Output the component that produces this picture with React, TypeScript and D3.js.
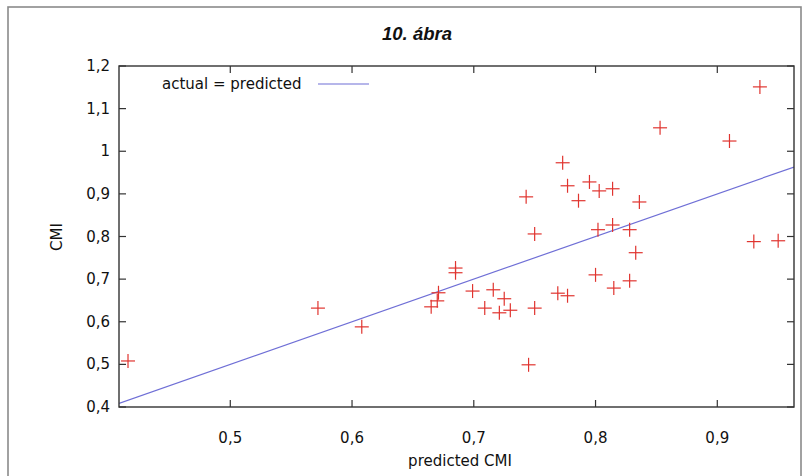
import React from 'react';
import * as d3 from 'd3';

// predicted CMI (x) and actual CMI (y)
const predicted = [
  0.416, 0.572, 0.608, 0.665, 0.670, 0.671, 0.685, 0.685, 0.699, 0.716,
  0.725, 0.709, 0.721, 0.730, 0.750, 0.745, 0.750, 0.769, 0.777, 0.800,
  0.802, 0.814, 0.815, 0.828, 0.828, 0.833, 0.930, 0.950, 0.935, 0.853,
  0.910, 0.773, 0.777, 0.743, 0.786, 0.795, 0.803, 0.814, 0.836,
];
const actual = [
  0.508, 0.632, 0.588, 0.635, 0.649, 0.668, 0.726, 0.715, 0.672, 0.675,
  0.654, 0.632, 0.621, 0.627, 0.632, 0.499, 0.806, 0.667, 0.661, 0.710,
  0.816, 0.827, 0.679, 0.816, 0.696, 0.762, 0.788, 0.790, 1.151, 1.055,
  1.024, 0.973, 0.919, 0.893, 0.884, 0.928, 0.907, 0.912, 0.881,
];
const xTicks = [0.5, 0.6, 0.7, 0.8, 0.9];
const yTicks = [0.4, 0.5, 0.6, 0.7, 0.8, 0.9, 1.0, 1.1, 1.2];

const W = 809;
const H = 476;
const left = 119, right = 794, top = 66, bottom = 407;
const fmt = (v: number) => d3.format('~g')(+v.toFixed(1)).replace('.', ',');
const font = 'Tahoma, "DejaVu Sans", Verdana, sans-serif';
const fs = 15;

export default function App() {
  const x = d3.scaleLinear().domain([0.4086, 0.963]).range([left, right]);
  const y = d3.scaleLinear().domain([0.4, 1.2]).range([bottom, top]);
  const line = d3.line<number>().x(d => x(d)).y(d => y(d));
  const tick = 7;
  const cross = 7;

  return (
    <svg width={W} height={H} style={{ position: 'absolute', left: 0, top: 0, background: '#fff' }}>
      <rect x={8} y={7} width={793} height={490} fill="none" stroke="#8a8a8a" strokeWidth={1.6} />
      <text x={417} y={40} textAnchor="middle" fontFamily='"Liberation Sans", Arial, sans-serif'
        fontWeight="bold" fontStyle="italic" fontSize={18.5} fill="#111">10. ábra</text>

      {/* diagonal reference line */}
      <clipPath id="plot">
        <rect x={left} y={top} width={right - left} height={bottom - top} />
      </clipPath>
      <path d={line([0.4086, 0.963]) ?? ''} stroke="#6f6fd6" strokeWidth={1.2} fill="none" clipPath="url(#plot)" />

      {predicted.map((p, i) => (
        <g key={i} stroke="#e0342f" strokeWidth={1.2}>
          <line x1={x(p) - cross} x2={x(p) + cross} y1={y(actual[i])} y2={y(actual[i])} />
          <line x1={x(p)} x2={x(p)} y1={y(actual[i]) - cross} y2={y(actual[i]) + cross} />
        </g>
      ))}

      <rect x={left} y={top} width={right - left} height={bottom - top} fill="none" stroke="#333" strokeWidth={1.4} />
      {xTicks.map(t => (
        <g key={t}>
          <line x1={x(t)} x2={x(t)} y1={bottom} y2={bottom - tick} stroke="#333" strokeWidth={1.2} />
          <line x1={x(t)} x2={x(t)} y1={top} y2={top + tick} stroke="#333" strokeWidth={1.2} />
          <text x={x(t)} y={443} textAnchor="middle" fontFamily={font} fontSize={fs} fill="#111">{fmt(t)}</text>
        </g>
      ))}
      {yTicks.map(t => (
        <g key={t}>
          <line x1={left} x2={left + tick} y1={y(t)} y2={y(t)} stroke="#333" strokeWidth={1.2} />
          <line x1={right} x2={right - tick} y1={y(t)} y2={y(t)} stroke="#333" strokeWidth={1.2} />
          <text x={110} y={y(t) + 5} textAnchor="end" fontFamily={font} fontSize={fs} fill="#111">{fmt(t)}</text>
        </g>
      ))}

      <text x={460} y={466} textAnchor="middle" fontFamily={font} fontSize={fs} fill="#111">predicted CMI</text>
      <text transform="translate(62,237) rotate(-90)" textAnchor="middle" fontFamily={font} fontSize={fs} fill="#111">CMI</text>

      {/* legend */}
      <text x={162} y={89} fontFamily={font} fontSize={fs} fill="#111">actual = predicted</text>
      <line x1={318} x2={369} y1={84} y2={84} stroke="#6f6fd6" strokeWidth={1.2} />
    </svg>
  );
}
